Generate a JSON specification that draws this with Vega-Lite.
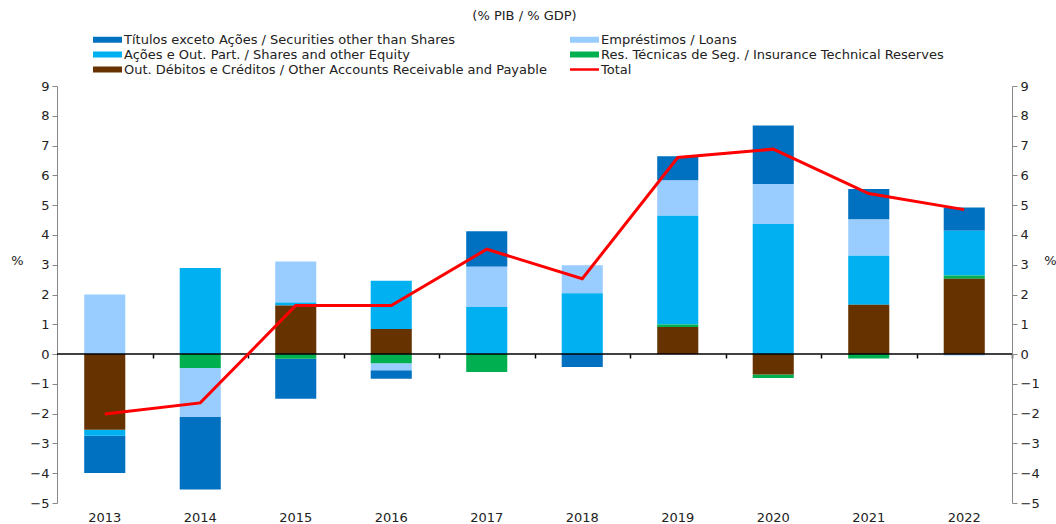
{
  "$schema": "https://vega.github.io/schema/vega-lite/v6.json",
  "width": 955,
  "height": 417,
  "autosize": {"type": "none"},
  "padding": {"left": 57, "top": 86, "right": 44, "bottom": 21},
  "background": "white",
  "config": {"view": {"stroke": null}, "font": "DejaVu Sans"},
  "title": {"text": "(% PIB / % GDP)", "fontSize": 13, "fontWeight": "normal", "color": "#222", "anchor": "middle", "offset": 10, "dx": -10},
  "datasets": {
    "parts": [
      {"year": "2013", "serie": "Títulos exceto Ações / Securities other than Shares", "value": -1.25},
      {"year": "2013", "serie": "Empréstimos / Loans", "value": 2.0},
      {"year": "2013", "serie": "Ações e Out. Part. / Shares and other Equity", "value": -0.2},
      {"year": "2013", "serie": "Res. Técnicas de Seg. / Insurance Technical Reserves", "value": 0.0},
      {"year": "2013", "serie": "Out. Débitos e Créditos / Other Accounts Receivable and Payable", "value": -2.54},
      {"year": "2014", "serie": "Títulos exceto Ações / Securities other than Shares", "value": -2.44},
      {"year": "2014", "serie": "Empréstimos / Loans", "value": -1.64},
      {"year": "2014", "serie": "Ações e Out. Part. / Shares and other Equity", "value": 2.89},
      {"year": "2014", "serie": "Res. Técnicas de Seg. / Insurance Technical Reserves", "value": -0.47},
      {"year": "2014", "serie": "Out. Débitos e Créditos / Other Accounts Receivable and Payable", "value": 0.0},
      {"year": "2015", "serie": "Títulos exceto Ações / Securities other than Shares", "value": -1.34},
      {"year": "2015", "serie": "Empréstimos / Loans", "value": 1.38},
      {"year": "2015", "serie": "Ações e Out. Part. / Shares and other Equity", "value": 0.1},
      {"year": "2015", "serie": "Res. Técnicas de Seg. / Insurance Technical Reserves", "value": -0.16},
      {"year": "2015", "serie": "Out. Débitos e Créditos / Other Accounts Receivable and Payable", "value": 1.63},
      {"year": "2016", "serie": "Títulos exceto Ações / Securities other than Shares", "value": -0.29},
      {"year": "2016", "serie": "Empréstimos / Loans", "value": -0.23},
      {"year": "2016", "serie": "Ações e Out. Part. / Shares and other Equity", "value": 1.62},
      {"year": "2016", "serie": "Res. Técnicas de Seg. / Insurance Technical Reserves", "value": -0.31},
      {"year": "2016", "serie": "Out. Débitos e Créditos / Other Accounts Receivable and Payable", "value": 0.84},
      {"year": "2017", "serie": "Títulos exceto Ações / Securities other than Shares", "value": 1.19},
      {"year": "2017", "serie": "Empréstimos / Loans", "value": 1.35},
      {"year": "2017", "serie": "Ações e Out. Part. / Shares and other Equity", "value": 1.58},
      {"year": "2017", "serie": "Res. Técnicas de Seg. / Insurance Technical Reserves", "value": -0.6},
      {"year": "2017", "serie": "Out. Débitos e Créditos / Other Accounts Receivable and Payable", "value": 0.0},
      {"year": "2018", "serie": "Títulos exceto Ações / Securities other than Shares", "value": -0.43},
      {"year": "2018", "serie": "Empréstimos / Loans", "value": 0.94},
      {"year": "2018", "serie": "Ações e Out. Part. / Shares and other Equity", "value": 2.04},
      {"year": "2018", "serie": "Res. Técnicas de Seg. / Insurance Technical Reserves", "value": 0.0},
      {"year": "2018", "serie": "Out. Débitos e Créditos / Other Accounts Receivable and Payable", "value": 0.0},
      {"year": "2019", "serie": "Títulos exceto Ações / Securities other than Shares", "value": 0.81},
      {"year": "2019", "serie": "Empréstimos / Loans", "value": 1.19},
      {"year": "2019", "serie": "Ações e Out. Part. / Shares and other Equity", "value": 3.65},
      {"year": "2019", "serie": "Res. Técnicas de Seg. / Insurance Technical Reserves", "value": 0.08},
      {"year": "2019", "serie": "Out. Débitos e Créditos / Other Accounts Receivable and Payable", "value": 0.91},
      {"year": "2020", "serie": "Títulos exceto Ações / Securities other than Shares", "value": 1.96},
      {"year": "2020", "serie": "Empréstimos / Loans", "value": 1.34},
      {"year": "2020", "serie": "Ações e Out. Part. / Shares and other Equity", "value": 4.37},
      {"year": "2020", "serie": "Res. Técnicas de Seg. / Insurance Technical Reserves", "value": -0.11},
      {"year": "2020", "serie": "Out. Débitos e Créditos / Other Accounts Receivable and Payable", "value": -0.69},
      {"year": "2021", "serie": "Títulos exceto Ações / Securities other than Shares", "value": 1.02},
      {"year": "2021", "serie": "Empréstimos / Loans", "value": 1.22},
      {"year": "2021", "serie": "Ações e Out. Part. / Shares and other Equity", "value": 1.64},
      {"year": "2021", "serie": "Res. Técnicas de Seg. / Insurance Technical Reserves", "value": -0.15},
      {"year": "2021", "serie": "Out. Débitos e Créditos / Other Accounts Receivable and Payable", "value": 1.66},
      {"year": "2022", "serie": "Títulos exceto Ações / Securities other than Shares", "value": 0.78},
      {"year": "2022", "serie": "Empréstimos / Loans", "value": -0.05},
      {"year": "2022", "serie": "Ações e Out. Part. / Shares and other Equity", "value": 1.5},
      {"year": "2022", "serie": "Res. Técnicas de Seg. / Insurance Technical Reserves", "value": 0.11},
      {"year": "2022", "serie": "Out. Débitos e Créditos / Other Accounts Receivable and Payable", "value": 2.53}
    ],
    "totals": [
      {"year": "2013", "total": -2.01},
      {"year": "2014", "total": -1.64},
      {"year": "2015", "total": 1.63},
      {"year": "2016", "total": 1.63},
      {"year": "2017", "total": 3.52},
      {"year": "2018", "total": 2.53},
      {"year": "2019", "total": 6.6},
      {"year": "2020", "total": 6.88},
      {"year": "2021", "total": 5.39},
      {"year": "2022", "total": 4.85}
    ]
  },
  "resolve": {"axis": {"x": "independent", "y": "independent"}},
  "layer": [
    {
      "data": {"name": "parts"},
      "transform": [
        {"calculate": "indexof(['Out. Débitos e Créditos / Other Accounts Receivable and Payable', 'Res. Técnicas de Seg. / Insurance Technical Reserves', 'Ações e Out. Part. / Shares and other Equity', 'Empréstimos / Loans', 'Títulos exceto Ações / Securities other than Shares'], datum.serie)", "as": "ord"}
      ],
      "mark": {"type": "bar"},
      "encoding": {
        "x": {
          "field": "year", "type": "nominal",
          "scale": {"paddingInner": 0.57, "paddingOuter": 0.285},
          "axis": {"title": null, "labelAngle": 0, "domain": false, "ticks": false, "labelFontSize": 13, "labelColor": "#222", "labelPadding": 8}
        },
        "y": {
          "field": "value", "type": "quantitative", "stack": "zero",
          "scale": {"domain": [-5, 9], "nice": false, "zero": false},
          "axis": {
            "orient": "left", "values": [-5, -4, -3, -2, -1, 0, 1, 2, 3, 4, 5, 6, 7, 8, 9],
            "grid": false, "domainColor": "#888", "tickColor": "#888", "tickSize": 5,
            "labelFontSize": 13, "labelColor": "#222", "labelPadding": 3,
            "title": "%", "titleAngle": 0, "titleX": -40, "titleY": 174, "titleFontSize": 13,
            "titleFontWeight": "normal", "titleColor": "#222", "titleAlign": "center", "titleBaseline": "middle"
          }
        },
        "color": {
          "field": "serie", "type": "nominal",
          "scale": {
            "domain": [
              "Títulos exceto Ações / Securities other than Shares",
              "Ações e Out. Part. / Shares and other Equity",
              "Out. Débitos e Créditos / Other Accounts Receivable and Payable",
              "Empréstimos / Loans",
              "Res. Técnicas de Seg. / Insurance Technical Reserves",
              "Total"
            ],
            "range": ["#0070C0", "#00B0F0", "#663300", "#99CCFF", "#00B050", "#FF0000"]
          },
          "legend": {
            "orient": "none", "legendX": 44, "legendY": -53, "columns": 2, "columnPadding": 23,
            "rowPadding": 1, "title": null, "labelFontSize": 13, "labelColor": "#222", "labelOffset": 10,
            "symbolSize": 100, "symbolType": "M-2.9,-0.6H2.9V0.6H-2.9Z", "padding": 0, "labelLimit": 600,
            "encode": {
              "symbols": {
                "update": {
                  "shape": {"signal": "datum.value === 'Total' ? 'M-2.9,-0.25H2.9V0.25H-2.9Z' : 'M-2.9,-0.6H2.9V0.6H-2.9Z'"},
                  "fill": {"scale": "color", "field": "value"},
                  "strokeWidth": {"value": 0},
                  "opacity": {"value": 1}
                }
              }
            }
          }
        },
        "order": {"field": "ord", "type": "quantitative", "sort": "ascending"}
      }
    },
    {
      "data": {"values": [{}]},
      "mark": {"type": "rule", "color": "#000000", "strokeWidth": 1.5},
      "encoding": {"y": {"datum": 0, "type": "quantitative", "axis": null}}
    },
    {
      "data": {"name": "totals"},
      "mark": {"type": "line", "strokeWidth": 3},
      "encoding": {
        "x": {
          "field": "year", "type": "nominal",
          "axis": {"orient": "top", "title": null, "labels": false, "domain": false, "ticks": true, "tickOffset": 47.75, "tickSize": -4, "tickColor": "#000", "tickWidth": 1.5, "offset": -268}
        },
        "y": {
          "field": "total", "type": "quantitative",
          "axis": {
            "orient": "right", "values": [-5, -4, -3, -2, -1, 0, 1, 2, 3, 4, 5, 6, 7, 8, 9],
            "grid": false, "domainColor": "#888", "tickColor": "#888", "tickSize": 5,
            "labelFontSize": 13, "labelColor": "#222", "labelPadding": 3,
            "title": "%", "titleAngle": 0, "titleX": 38, "titleY": 174, "titleFontSize": 13,
            "titleFontWeight": "normal", "titleColor": "#222", "titleAlign": "center", "titleBaseline": "middle"
          }
        },
        "color": {"datum": "Total"}
      }
    }
  ]
}
